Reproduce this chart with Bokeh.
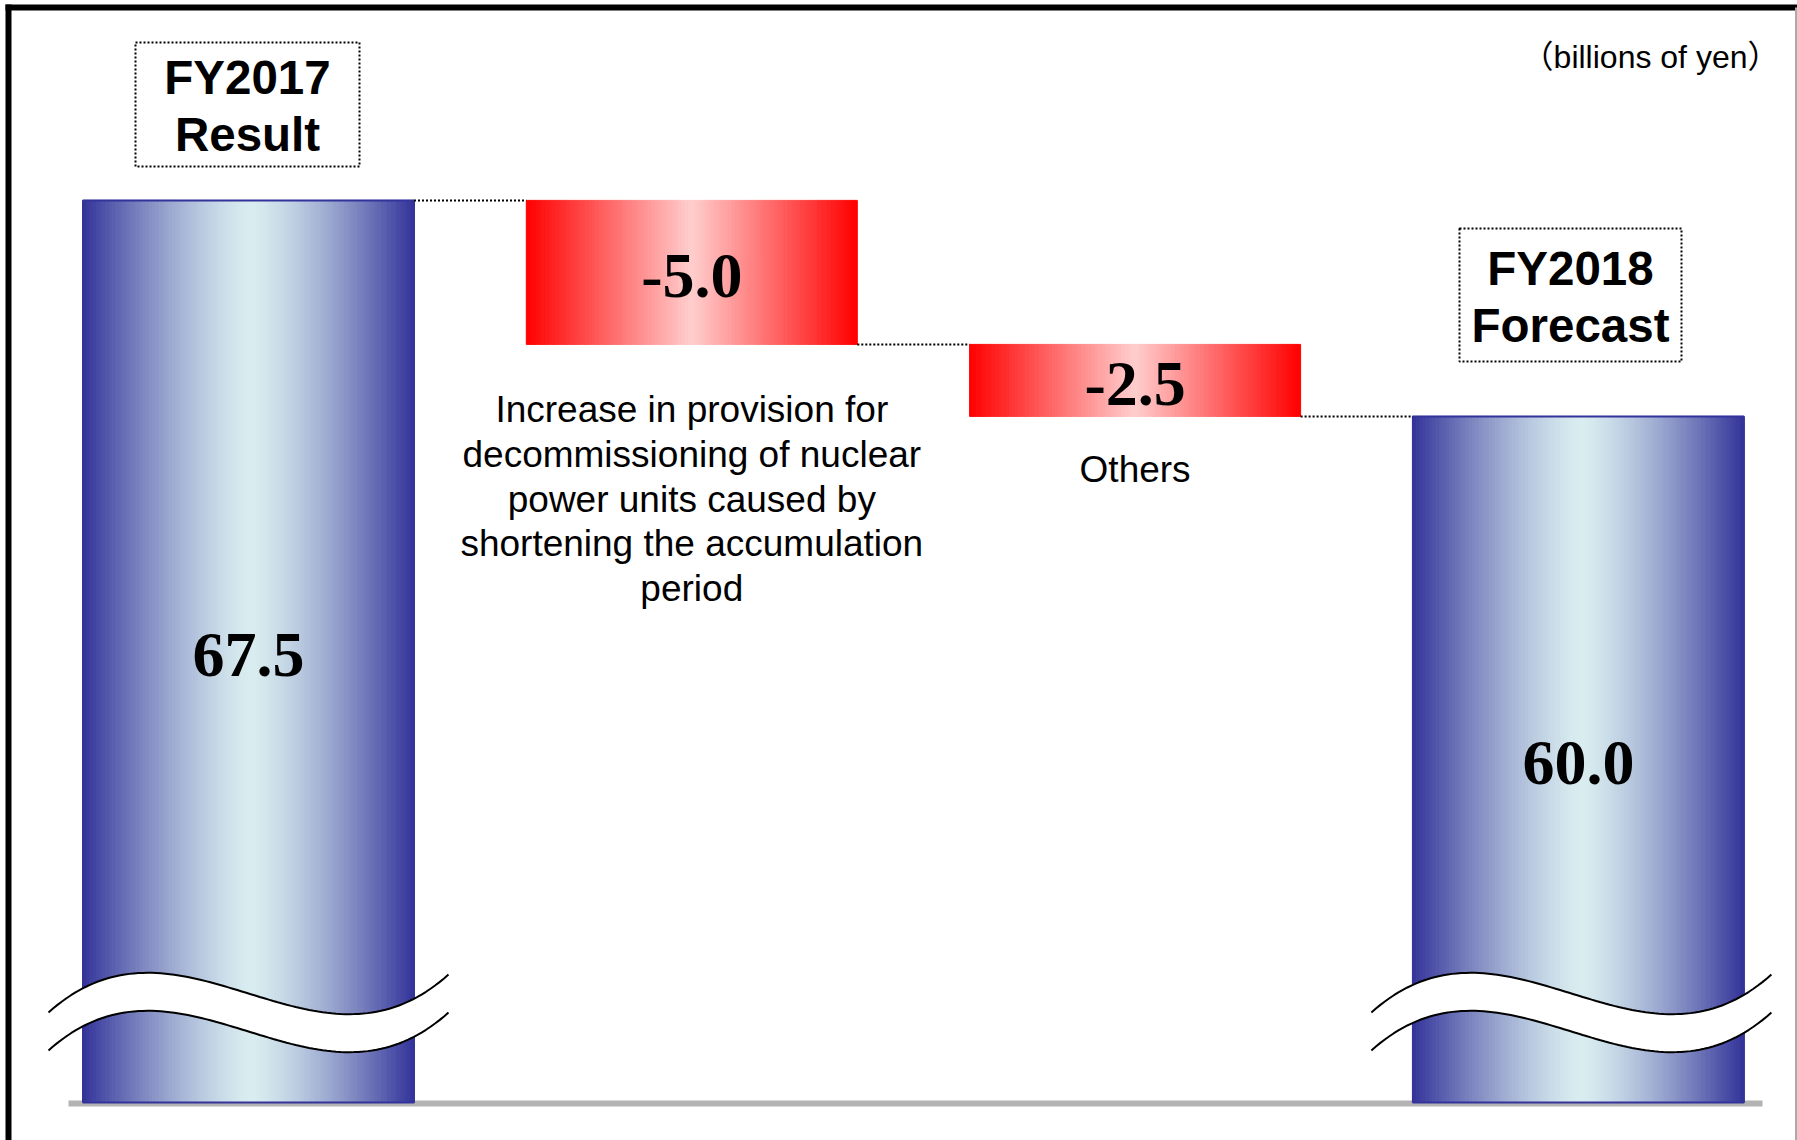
import numpy as np
from bokeh.plotting import figure
from bokeh.models import Range1d, ColumnDataSource
from bokeh.core.properties import value
from bokeh.embed import file_html
from bokeh.resources import INLINE

# ---------------- data ----------------
categories = ["FY2017 Result", "Provision increase", "Others", "FY2018 Forecast"]
values = [67.5, -5.0, -2.5, 60.0]
kinds = ["total", "delta", "delta", "total"]
value_labels = ["67.5", "-5.0", "-2.5", "60.0"]
header_lines = [["FY2017", "Result"], [], [], ["FY2018", "Forecast"]]
description_lines = [
    [],
    ["Increase in provision for", "decommissioning of nuclear",
     "power units caused by", "shortening the accumulation", "period"],
    ["Others"],
    [],
]
unit_text = "（billions of yen）"

# ---------------- layout ----------------
W, H = 1797, 1140
CX0, STEP = 248.0, 443.3          # pixel centre of first bar, pixel step between bars
BAR_W = 331.0 / STEP
Y_MAX, Y_MIN = 74.44, 34.86
Y_PER_PX = (Y_MAX - Y_MIN) / H


def xd(px):
    return (px - CX0) / STEP


def yd(py):
    return Y_MAX - np.asarray(py, dtype=float) * Y_PER_PX


BASE = float(yd(1102))  # broken-axis base of the total bars

p = figure(width=W, height=H, x_range=Range1d(xd(0), xd(W)), y_range=Range1d(Y_MIN, Y_MAX),
           output_backend="svg", toolbar_location=None, min_border=0,
           x_axis_type=None, y_axis_type=None, outline_line_color=None,
           background_fill_color="white", border_fill_color="white")
p.grid.visible = False

# ---------------- frame ----------------
p.line([xd(5), xd(W)], [yd(7), yd(7)], line_color="black", line_width=6)
p.line([xd(8), xd(8)], [yd(4), yd(H)], line_color="black", line_width=6)
p.line([xd(W - 1.5), xd(W - 1.5)], [yd(7), yd(H)], line_color="#AAAAAA", line_width=2)

# baseline
p.line([xd(68), xd(1762)], [yd(1103), yd(1103)], line_color="#B3B3B3", line_width=6)

# ---------------- waterfall geometry ----------------
bottoms, tops, levels = [], [], []
run = 0.0
for v, k in zip(values, kinds):
    if k == "total":
        run = v
        bottoms.append(BASE)
        tops.append(v)
    else:
        new = run + v
        bottoms.append(min(run, new))
        tops.append(max(run, new))
        run = new
    levels.append(run)

# gradient strips
NSTRIP = 100
BLUE_EDGE = np.array([51, 51, 153])
BLUE_MID = np.array([217, 237, 240])
RED_EDGE = np.array([255, 0, 0])
RED_MID = np.array([255, 206, 206])
sl, sr, sb, st, sc = [], [], [], [], []
for i, (b, t, k) in enumerate(zip(bottoms, tops, kinds)):
    if k == "total":
        edge, mid, gamma, centre = BLUE_EDGE, BLUE_MID, 1.35, 0.51
    else:
        edge, mid, gamma, centre = RED_EDGE, RED_MID, 1.0, 0.5
    left = i - BAR_W / 2
    for s in range(NSTRIP):
        u = (s + 0.5) / NSTRIP
        d = (centre - u) / centre if u < centre else (u - centre) / (1 - centre)
        d = min(1.0, d) ** gamma
        c = mid + (edge - mid) * d
        sc.append("#%02x%02x%02x" % tuple(int(round(q)) for q in c))
        sl.append(left + BAR_W * s / NSTRIP)
        sr.append(left + BAR_W * (s + 1) / NSTRIP)
        sb.append(b)
        st.append(t)
strips = ColumnDataSource(dict(left=sl, right=sr, bottom=sb, top=st, color=sc))
p.quad(left="left", right="right", bottom="bottom", top="top", source=strips,
       fill_color="color", line_color="color", line_width=1)

# outlines of total bars
tot_idx = [i for i, k in enumerate(kinds) if k == "total"]
p.quad(left=[i - BAR_W / 2 for i in tot_idx], right=[i + BAR_W / 2 for i in tot_idx],
       bottom=[bottoms[i] for i in tot_idx], top=[tops[i] for i in tot_idx],
       fill_color=None, line_color="#333399", line_width=2)

# connectors
cx0 = [i + BAR_W / 2 for i in range(len(values) - 1)]
cx1 = [i + 1 - BAR_W / 2 for i in range(len(values) - 1)]
cy = levels[:-1]
p.segment(x0=cx0, y0=cy, x1=cx1, y1=cy, line_color="black", line_width=2, line_dash="2 2")

# axis-break waves on total bars
tt = np.linspace(0, 1, 90)
P0, P3, D = 1012.0, 974.0, 120.0
wave_top_px = ((1 - tt) ** 3 * P0 + 3 * (1 - tt) ** 2 * tt * (P0 - D)
               + 3 * (1 - tt) * tt ** 2 * (P3 + D) + tt ** 3 * P3)
wave_bot_px = wave_top_px + 38
wave_start_px = {0: -200.0, 3: -207.0}
for i in tot_idx:
    wx = i + wave_start_px[i] / STEP + (400.0 / STEP) * tt
    ytop = yd(wave_top_px)
    ybot = yd(wave_bot_px)
    p.patch(np.concatenate([wx, wx[::-1]]), np.concatenate([ytop, ybot[::-1]]),
            fill_color="white", line_color=None)
    p.line(wx, ytop, line_color="black", line_width=2)
    p.line(wx, ybot, line_color="black", line_width=2)

# value labels
p.text(x=list(range(len(values))), y=[(b + t) / 2 for b, t in zip(bottoms, tops)],
       text=value_labels, text_font=value("Liberation Serif"), text_font_style="bold",
       text_font_size="64px", text_align="center", text_baseline="middle", text_color="black",
       y_offset=4)

# header boxes
box_px = [(135, 42, 359, 166), None, None, (1459, 228, 1681, 361)]
hx, hy, ht = [], [], []
for i, bx in enumerate(box_px):
    if bx is None:
        continue
    x0, y0, x1, y1 = bx
    p.quad(left=[xd(x0)], right=[xd(x1)], top=[float(yd(y0))], bottom=[float(yd(y1))],
           fill_color=None, line_color="black", line_width=2, line_dash="2 2")
    cyp = (y0 + y1) / 2
    for j, line in enumerate(header_lines[i]):
        hx.append(xd((x0 + x1) / 2))
        hy.append(float(yd(cyp - 27 + 57 * j)))
        ht.append(line)
p.text(x=hx, y=hy, text=ht, text_font=value("Liberation Sans"), text_font_style="bold",
       text_font_size="47.5px", text_align="center", text_baseline="middle", text_color="black")

# descriptions
desc_first_px = [None, 409, 469, None]
dx, dy, dt = [], [], []
for i, lines in enumerate(description_lines):
    for j, line in enumerate(lines):
        dx.append(i)
        dy.append(float(yd(desc_first_px[i] + 44.8 * j)))
        dt.append(line)
p.text(x=dx, y=dy, text=dt, text_font=value("Liberation Sans"), text_font_size="37px",
       text_align="center", text_baseline="middle", text_color="black")

# unit label
p.text(x=[xd(1779)], y=[float(yd(56))], text=[unit_text],
       text_font=value("'Liberation Sans', 'Noto Sans CJK JP'"),
       text_font_size="32px", text_align="right", text_baseline="middle", text_color="black")

open("out.html", "w").write(file_html(p, INLINE))
